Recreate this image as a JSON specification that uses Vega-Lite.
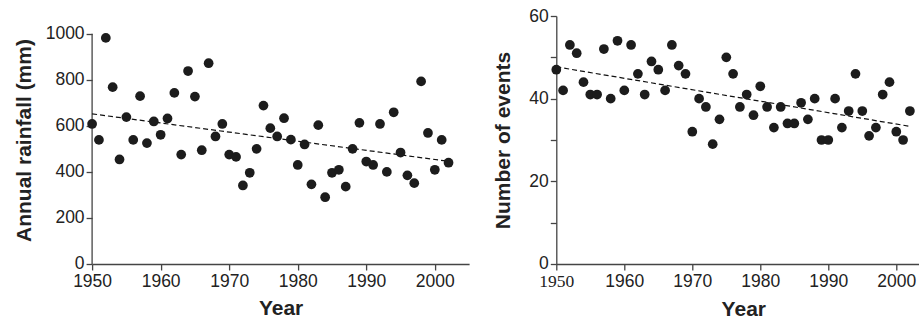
{
  "$schema": "https://vega.github.io/schema/vega-lite/v6.json",
  "padding": {"top": 7, "left": 13.1, "right": 0, "bottom": 0},
  "spacing": 23.2,
  "config": {
    "view": {"stroke": null},
    "font": "Liberation Sans",
    "axis": {
      "grid": false,
      "domainColor": "#444",
      "domainWidth": 1.3,
      "tickColor": "#444",
      "tickWidth": 1.3,
      "tickSize": 6,
      "labelFont": "Liberation Sans",
      "labelFontSize": 17.5,
      "labelColor": "#222",
      "labelPadding": 2,
      "labelFlush": false,
      "titleFont": "Liberation Sans",
      "titleFontSize": 21,
      "titleFontWeight": "bold",
      "titleColor": "#222",
      "titlePadding": 11
    }
  },
  "datasets": {
    "rain": [
      {"year": 1950, "value": 608}, {"year": 1951, "value": 539}, {"year": 1952, "value": 982},
      {"year": 1953, "value": 768}, {"year": 1954, "value": 454}, {"year": 1955, "value": 638},
      {"year": 1956, "value": 539}, {"year": 1957, "value": 729}, {"year": 1958, "value": 525},
      {"year": 1959, "value": 619}, {"year": 1960, "value": 561}, {"year": 1961, "value": 632},
      {"year": 1962, "value": 743}, {"year": 1963, "value": 475}, {"year": 1964, "value": 838},
      {"year": 1965, "value": 727}, {"year": 1966, "value": 494}, {"year": 1967, "value": 872},
      {"year": 1968, "value": 554}, {"year": 1969, "value": 608}, {"year": 1970, "value": 475},
      {"year": 1971, "value": 465}, {"year": 1972, "value": 341}, {"year": 1973, "value": 396},
      {"year": 1974, "value": 500}, {"year": 1975, "value": 688}, {"year": 1976, "value": 590},
      {"year": 1977, "value": 554}, {"year": 1978, "value": 633}, {"year": 1979, "value": 540},
      {"year": 1980, "value": 430}, {"year": 1981, "value": 519}, {"year": 1982, "value": 346},
      {"year": 1983, "value": 603}, {"year": 1984, "value": 290}, {"year": 1985, "value": 396},
      {"year": 1986, "value": 409}, {"year": 1987, "value": 336}, {"year": 1988, "value": 500},
      {"year": 1989, "value": 613}, {"year": 1990, "value": 445}, {"year": 1991, "value": 430},
      {"year": 1992, "value": 608}, {"year": 1993, "value": 400}, {"year": 1994, "value": 659},
      {"year": 1995, "value": 484}, {"year": 1996, "value": 385}, {"year": 1997, "value": 351},
      {"year": 1998, "value": 793}, {"year": 1999, "value": 569}, {"year": 2000, "value": 409},
      {"year": 2001, "value": 539}, {"year": 2002, "value": 440}
    ],
    "rainTrend": [{"year": 1950, "value": 652}, {"year": 2002, "value": 446}],
    "rainAxis": [{"year": 1950, "lo": 0, "hi": 1000}],
    "events": [
      {"year": 1950, "value": 47}, {"year": 1951, "value": 42}, {"year": 1952, "value": 53},
      {"year": 1953, "value": 51}, {"year": 1954, "value": 44}, {"year": 1955, "value": 41},
      {"year": 1956, "value": 41}, {"year": 1957, "value": 52}, {"year": 1958, "value": 40},
      {"year": 1959, "value": 54}, {"year": 1960, "value": 42}, {"year": 1961, "value": 53},
      {"year": 1962, "value": 46}, {"year": 1963, "value": 41}, {"year": 1964, "value": 49},
      {"year": 1965, "value": 47}, {"year": 1966, "value": 42}, {"year": 1967, "value": 53},
      {"year": 1968, "value": 48}, {"year": 1969, "value": 46}, {"year": 1970, "value": 32},
      {"year": 1971, "value": 40}, {"year": 1972, "value": 38}, {"year": 1973, "value": 29},
      {"year": 1974, "value": 35}, {"year": 1975, "value": 50}, {"year": 1976, "value": 46},
      {"year": 1977, "value": 38}, {"year": 1978, "value": 41}, {"year": 1979, "value": 36},
      {"year": 1980, "value": 43}, {"year": 1981, "value": 38}, {"year": 1982, "value": 33},
      {"year": 1983, "value": 38}, {"year": 1984, "value": 34}, {"year": 1985, "value": 34},
      {"year": 1986, "value": 39}, {"year": 1987, "value": 35}, {"year": 1988, "value": 40},
      {"year": 1989, "value": 30}, {"year": 1990, "value": 30}, {"year": 1991, "value": 40},
      {"year": 1992, "value": 33}, {"year": 1993, "value": 37}, {"year": 1994, "value": 46},
      {"year": 1995, "value": 37}, {"year": 1996, "value": 31}, {"year": 1997, "value": 33},
      {"year": 1998, "value": 41}, {"year": 1999, "value": 44}, {"year": 2000, "value": 32},
      {"year": 2001, "value": 30}, {"year": 2002, "value": 37}
    ],
    "eventsTrend": [{"year": 1950, "value": 47.7}, {"year": 2002, "value": 33.3}]
  },
  "hconcat": [
    {
      "width": 377,
      "height": 248,
      "layer": [
        {
          "data": {"name": "rainAxis"},
          "mark": {"type": "rule", "color": "#444", "strokeWidth": 1.3},
          "encoding": {
            "x": {"field": "year", "type": "quantitative"},
            "y": {"field": "lo", "type": "quantitative"},
            "y2": {"field": "hi"}
          }
        },
        {
          "data": {"name": "rainTrend"},
          "mark": {"type": "line", "color": "#111", "strokeWidth": 1.2, "strokeDash": [5, 3]},
          "encoding": {
            "x": {"field": "year", "type": "quantitative"},
            "y": {"field": "value", "type": "quantitative"}
          }
        },
        {
          "data": {"name": "rain"},
          "mark": {"type": "point", "filled": true, "color": "#1c1c1c", "opacity": 1, "size": 95},
          "encoding": {
            "x": {
              "field": "year", "type": "quantitative",
              "scale": {"domain": [1950, 2005], "nice": false, "zero": false},
              "axis": {
                "title": "Year",
                "values": [1950, 1955, 1960, 1965, 1970, 1975, 1980, 1985, 1990, 1995, 2000, 2005],
                "format": "d",
                "labelExpr": "datum.value % 10 == 0 && datum.value <= 2000 ? datum.label : ''",
                "labelPadding": 3,
                "titlePadding": 7
              }
            },
            "y": {
              "field": "value", "type": "quantitative",
              "scale": {"domain": [0, 1077], "nice": false},
              "axis": {
                "title": "Annual rainfall (mm)",
                "values": [0, 200, 400, 600, 800, 1000],
                "format": "d",
                "domain": false
              }
            }
          }
        }
      ]
    },
    {
      "width": 374,
      "height": 248,
      "layer": [
        {
          "data": {"name": "eventsTrend"},
          "mark": {"type": "line", "color": "#111", "strokeWidth": 1.2, "strokeDash": [5, 3]},
          "encoding": {
            "x": {"field": "year", "type": "quantitative"},
            "y": {"field": "value", "type": "quantitative"}
          }
        },
        {
          "data": {"name": "events"},
          "mark": {"type": "point", "filled": true, "color": "#1c1c1c", "opacity": 1, "size": 95},
          "encoding": {
            "x": {
              "field": "year", "type": "quantitative",
              "scale": {"domain": [1950, 2005], "nice": false, "zero": false},
              "axis": {
                "title": "Year",
                "values": [1950, 1955, 1960, 1965, 1970, 1975, 1980, 1985, 1990, 1995, 2000, 2005],
                "format": "d",
                "labelExpr": "datum.value % 10 == 0 && datum.value <= 2000 ? datum.label : ''",
                "labelFont": {"expr": "datum.value == 1950 ? 'Liberation Serif' : 'Liberation Sans'"},
                "labelPadding": 3,
                "titlePadding": 8
              }
            },
            "y": {
              "field": "value", "type": "quantitative",
              "scale": {"domain": [0, 60], "nice": false},
              "axis": {
                "title": "Number of events",
                "values": [0, 10, 20, 30, 40, 50, 60],
                "labelExpr": "datum.value % 20 == 0 ? datum.label : ''",
                "titlePadding": 15
              }
            }
          }
        }
      ]
    }
  ]
}
